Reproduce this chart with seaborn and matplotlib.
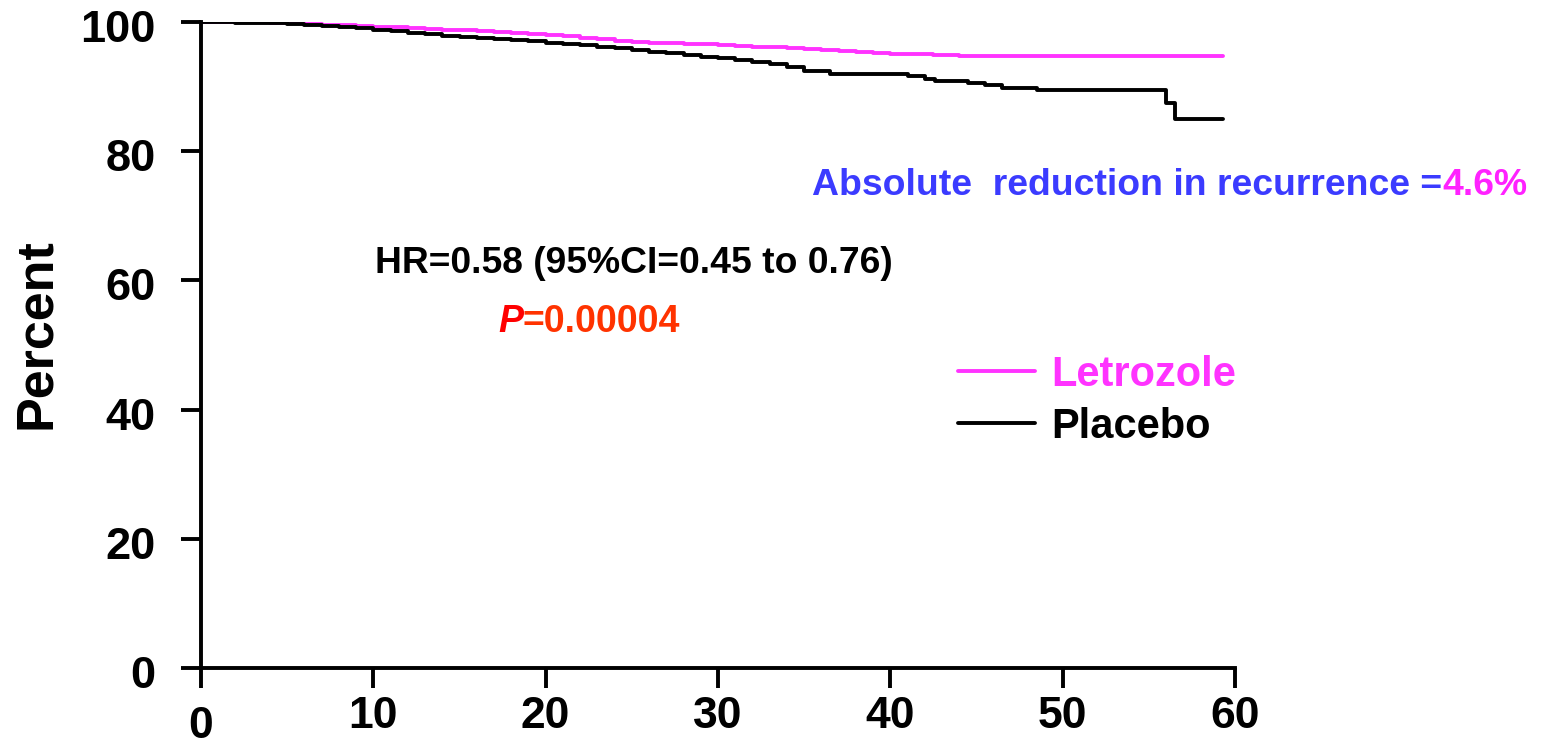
import numpy as np
import pandas as pd
import seaborn as sns
import matplotlib
matplotlib.use("Agg")
import matplotlib.pyplot as plt
from matplotlib.transforms import ScaledTranslation

# Kaplan-Meier style disease-free survival (percent) by month
letrozole_months = [0, 1, 2, 3, 4, 5, 6, 7, 8, 9, 10, 11, 12, 13, 14, 15, 16, 17,
                    18, 19, 20, 21, 22, 23, 24, 25, 26, 27, 28, 29, 30, 31, 32,
                    33, 34, 35, 36, 37, 38, 39, 40, 41, 42.5, 44, 45.5, 59.3]
letrozole_pct = [100, 100, 100, 100, 99.9, 99.8, 99.7, 99.6, 99.5, 99.4, 99.3,
                 99.15, 99.0, 98.9, 98.8, 98.7, 98.6, 98.45, 98.3, 98.15, 98.0,
                 97.8, 97.6, 97.35, 97.1, 96.95, 96.8, 96.7, 96.6, 96.55, 96.5,
                 96.35, 96.2, 96.1, 96.0, 95.8, 95.6, 95.45, 95.3, 95.2, 95.1,
                 95.0, 94.9, 94.8, 94.7, 94.7]

placebo_months = [0, 1, 2, 3, 4, 5, 6, 7, 8, 9, 10, 11, 12, 13, 14, 15, 16, 17,
                  18, 19, 20, 21, 22, 23, 24, 25, 26, 27, 28, 29, 30, 31, 32, 33,
                  34, 35, 36.5, 41, 42, 42.6, 44.5, 45.5, 46.5, 48.5, 56.0, 56.5,
                  59.3]
placebo_pct = [100, 100, 99.9, 99.85, 99.8, 99.65, 99.5, 99.35, 99.2, 99.0, 98.8,
               98.55, 98.3, 98.1, 97.9, 97.75, 97.6, 97.4, 97.2, 97.0, 96.8, 96.6,
               96.4, 96.15, 95.9, 95.65, 95.4, 95.15, 94.9, 94.65, 94.4, 94.1,
               93.8, 93.5, 93.1, 92.4, 92.0, 91.7, 91.2, 90.8, 90.5, 90.2, 89.8,
               89.4, 87.5, 85.0, 85.0]

arms = ["Letrozole", "Placebo"]
arm_colors = {"Letrozole": "#ff33ff", "Placebo": "#000000"}

x_ticks = [0, 10, 20, 30, 40, 50, 60]
y_ticks = [0, 20, 40, 60, 80, 100]

hr_text = "HR=0.58 (95%CI=0.45 to 0.76)"
p_label = "P"
p_value = "=0.00004"
abs_text = "Absolute  reduction in recurrence ="
abs_value = "4.6%"

df = pd.concat([
    pd.DataFrame({"Month": letrozole_months, "Percent": letrozole_pct, "Arm": arms[0]}),
    pd.DataFrame({"Month": placebo_months, "Percent": placebo_pct, "Arm": arms[1]}),
], ignore_index=True)

sns.set_theme(style="white")
plt.rcParams["font.family"] = ["Liberation Sans", "DejaVu Sans"]
plt.rcParams["font.weight"] = "bold"

W, H = 1544, 749
fig = plt.figure(figsize=(W / 100, H / 100), dpi=100)
ax = fig.add_axes([201 / W, 1 - 668 / H, (1235 - 201) / W, (668 - 22) / H])

sns.lineplot(data=df, x="Month", y="Percent", hue="Arm", hue_order=arms,
             palette=arm_colors, drawstyle="steps-post", linewidth=2.8,
             estimator=None, ax=ax, legend=True)

ax.set_xlim(0, 60)
ax.set_ylim(0, 100)
ax.set_xticks(x_ticks)
ax.set_yticks(y_ticks)
ax.set_xticklabels([str(v) for v in x_ticks], fontsize=32, fontweight="bold")
ax.set_yticklabels([str(v) for v in y_ticks], fontsize=32.5, fontweight="bold")
ax.tick_params(axis="x", direction="out", length=14.5, width=2.8, pad=6,
               bottom=True, colors="black")
ax.tick_params(axis="y", direction="out", length=14.5, width=2.8, pad=18,
               left=True, colors="black")
for side in ("top", "right"):
    ax.spines[side].set_visible(False)
for side in ("left", "bottom"):
    ax.spines[side].set_linewidth(2.8)
    ax.spines[side].set_color("black")

# value labels on the percent axis sit slightly below their ticks
for lbl in ax.get_yticklabels():
    lbl.set_transform(lbl.get_transform()
                      + ScaledTranslation(0, -4 / 100, fig.dpi_scale_trans))

# the zero on the time axis sits a little lower than the other labels
zero_lbl = ax.get_xticklabels()[0]
zero_lbl.set_transform(zero_lbl.get_transform()
                       + ScaledTranslation(0, -10 / 100, fig.dpi_scale_trans))

ax.set_xlabel("")
ax.set_ylabel("Percent", fontsize=37.5, fontweight="bold", va="center",
              color="black")
ax.yaxis.set_label_coords((37 - 201) / 1034, (668 - 334) / 646)

# legend
leg = ax.legend(loc="upper left", bbox_to_anchor=(958 / W, 1 - 355 / H),
                bbox_transform=fig.transFigure, frameon=False, fontsize=30,
                handlelength=1.85, handletextpad=0.4, labelspacing=0.28,
                borderpad=0, borderaxespad=0)
for txt, arm in zip(leg.get_texts(), arms):
    txt.set_color(arm_colors[arm])
    txt.set_fontweight("bold")
for line in leg.get_lines():
    line.set_linewidth(2.8)

# annotations
def fx(px):
    return px / W

def fy(py):
    return 1 - py / H

t1 = fig.text(fx(812), fy(195), abs_text, color="#3b3bff", fontsize=26.9,
              fontweight="bold", va="baseline", ha="left")
fig.canvas.draw()
bb = t1.get_window_extent()
fig.text(bb.x1 / W, fy(195), abs_value, color="#ff22ff", fontsize=26.9,
         fontweight="bold", va="baseline", ha="left")

fig.text(fx(375), fy(273), hr_text, color="black", fontsize=26.8,
         fontweight="bold", va="baseline", ha="left")

t2 = fig.text(fx(498), fy(332), p_label, color="#ff0000", fontsize=27,
              fontweight="bold", fontstyle="italic", va="baseline", ha="left")
fig.canvas.draw()
bb2 = t2.get_window_extent()
fig.text(bb2.x1 / W, fy(332), p_value, color="#ff3300", fontsize=27,
         fontweight="bold", va="baseline", ha="left")

fig.savefig("out.png", dpi=100, facecolor="white")
